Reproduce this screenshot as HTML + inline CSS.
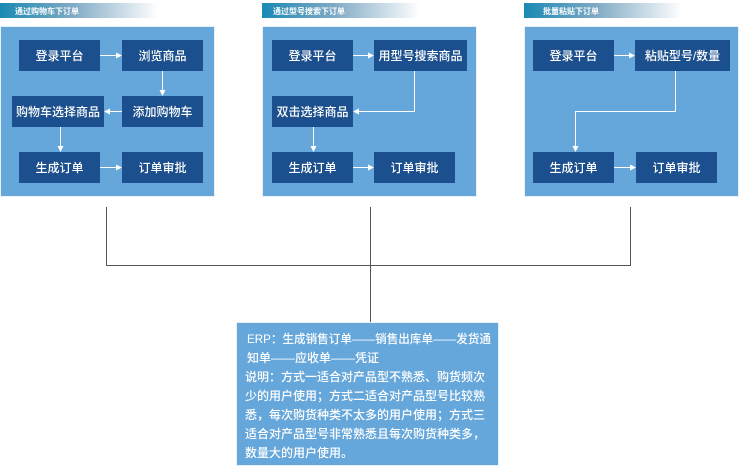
<!DOCTYPE html>
<html><head><meta charset="utf-8"><style>
body{margin:0;background:#fff;width:739px;height:466px;overflow:hidden}
svg{display:block}
.t{font-family:"Liberation Sans","Noto Sans CJK SC",sans-serif;fill:#fff}
</style></head><body>
<svg width="739" height="466" xmlns="http://www.w3.org/2000/svg">
<defs>
<linearGradient id="g" x1="0" x2="1"><stop offset="0" stop-color="#1a8ab4"/><stop offset="0.45" stop-color="#7fa9c4"/><stop offset="1" stop-color="#fff"/></linearGradient>
<marker id="a" markerWidth="6" markerHeight="6" refX="5" refY="3" orient="auto" markerUnits="userSpaceOnUse"><path d="M0,0 L6,3 L0,6z" fill="#fff"/></marker>
</defs>
<g>
<rect x="0" y="3" width="158" height="15" fill="url(#g)"/>
<rect x="262" y="3" width="158" height="15" fill="url(#g)"/>
<rect x="524" y="3" width="158" height="15" fill="url(#g)"/>
<text class="t" x="15" y="14" font-size="8" font-weight="bold">通过购物车下订单</text>
<text class="t" x="273" y="14" font-size="8" font-weight="bold">通过型号搜索下订单</text>
<text class="t" x="543" y="14" font-size="8" font-weight="bold">批量粘贴下订单</text>
</g>
<g fill="#66a7db" stroke="#e6f0f8" stroke-width="1">
<rect x="0.5" y="26.5" width="214" height="170"/>
<rect x="262.5" y="26.5" width="214" height="170"/>
<rect x="524.5" y="26.5" width="214" height="170"/>
</g>
<g fill="#1b4f8d">
<rect x="19" y="40" width="81" height="31"/><rect x="122" y="40" width="81" height="31"/>
<rect x="12" y="96" width="92" height="31"/><rect x="122" y="96" width="81" height="31"/>
<rect x="19" y="152" width="81" height="31"/><rect x="122" y="152" width="81" height="31"/>
<rect x="272" y="40" width="81" height="31"/><rect x="374" y="40" width="93" height="31"/>
<rect x="272" y="96" width="81" height="31"/>
<rect x="272" y="152" width="81" height="31"/><rect x="374" y="152" width="81" height="31"/>
<rect x="533" y="40" width="81" height="31"/><rect x="635" y="40" width="95" height="31"/>
<rect x="533" y="152" width="81" height="31"/><rect x="636" y="152" width="81" height="31"/>
</g>
<g class="t" font-size="12" text-anchor="middle" font-weight="500">
<text x="59.5" y="60">登录平台</text><text x="162.5" y="60">浏览商品</text>
<text x="58" y="116">购物车选择商品</text><text x="162.5" y="116">添加购物车</text>
<text x="59.5" y="172">生成订单</text><text x="162.5" y="172">订单审批</text>
<text x="312.5" y="60">登录平台</text><text x="420.5" y="60">用型号搜索商品</text>
<text x="312.5" y="116">双击选择商品</text>
<text x="312.5" y="172">生成订单</text><text x="414.5" y="172">订单审批</text>
<text x="573.5" y="60">登录平台</text><text x="682.5" y="60">粘贴型号/数量</text>
<text x="573.5" y="172">生成订单</text><text x="676.5" y="172">订单审批</text>
</g>
<g stroke="#fff" stroke-width="1" fill="none" marker-end="url(#a)">
<path d="M100,55.5H121"/><path d="M162.5,71V95"/><path d="M122,111.5H105"/><path d="M60.5,127V151"/><path d="M100,167.5H121"/>
<path d="M353,55.5H373"/><path d="M414.5,71V111.5H354"/><path d="M313.5,127V151"/><path d="M353,167.5H373"/>
<path d="M614,55.5H634"/><path d="M675.5,71V111.5H575.5V151"/><path d="M614,167.5H635"/>
</g>
<g stroke="#555" stroke-width="1" fill="none">
<path d="M106.5,207V265.5H630.5V207"/><path d="M370.5,207V322"/>
</g>
<rect x="236.5" y="322.5" width="262" height="143" fill="#66a7db" stroke="#e6f0f8"/>
<g class="t" font-size="12" font-weight="500">
<text x="247" y="343" textLength="244" lengthAdjust="spacingAndGlyphs">ERP：生成销售订单——销售出库单——发货通</text>
<text x="247" y="362">知单——应收单——凭证</text>
<text x="245" y="381">说明：方式一适合对产品型不熟悉、购货频次</text>
<text x="245" y="400">少的用户使用；方式二适合对产品型号比较熟</text>
<text x="245" y="419">悉，每次购货种类不太多的用户使用；方式三</text>
<text x="245" y="438">适合对产品型号非常熟悉且每次购货种类多，</text>
<text x="245" y="457">数量大的用户使用。</text>
</g>
</svg>
</body></html>
